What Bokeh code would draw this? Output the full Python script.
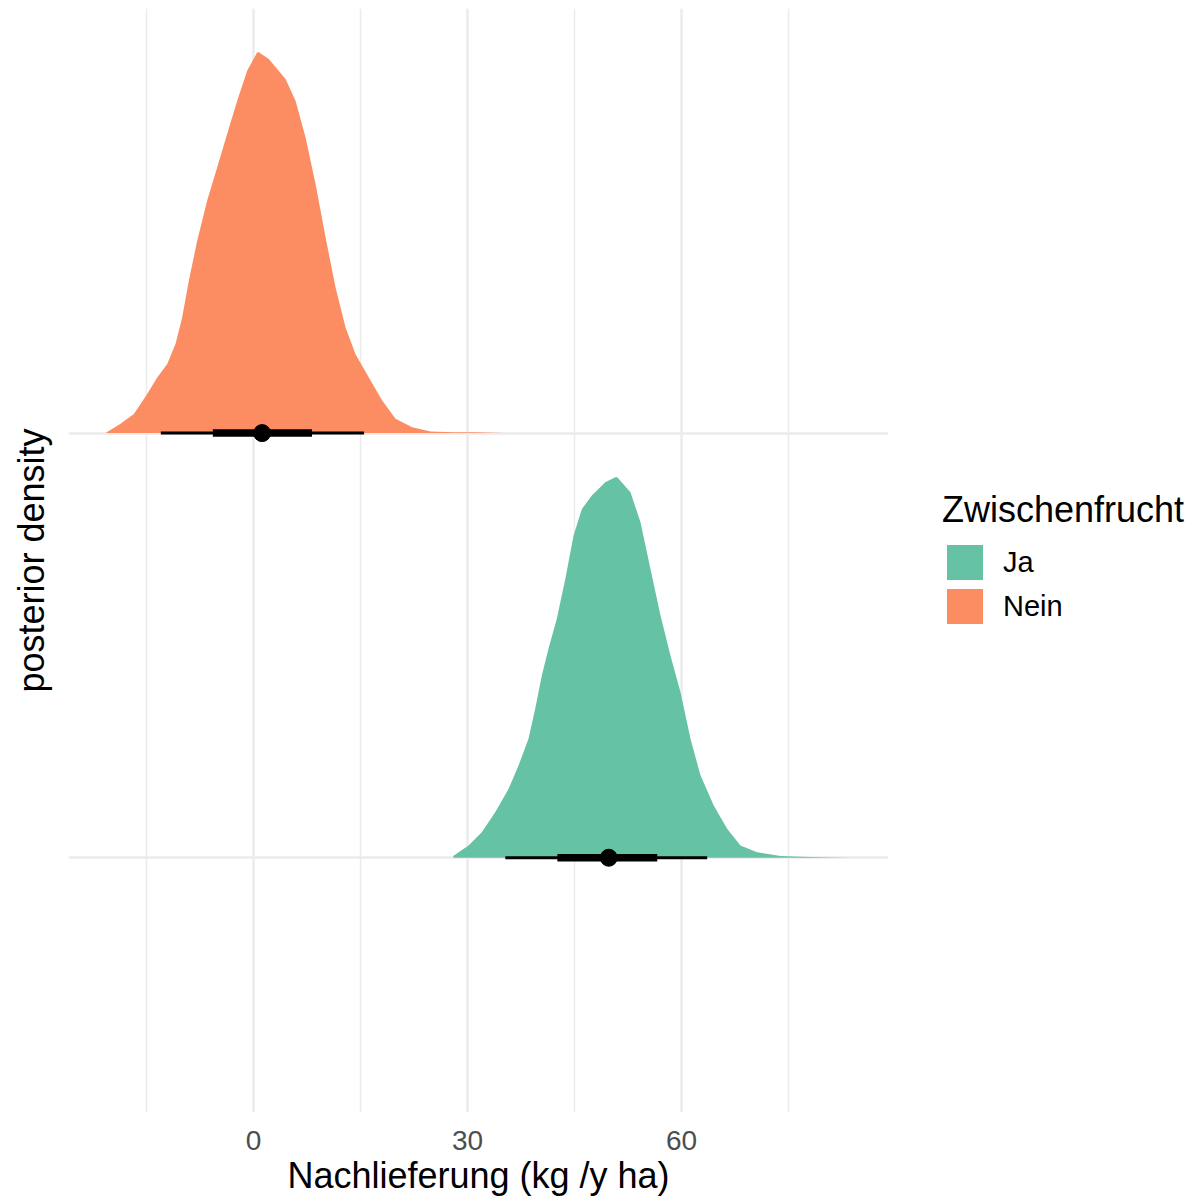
from bokeh.plotting import figure
from bokeh.models import FixedTicker, Legend, LegendItem
from bokeh.layouts import row
from bokeh.embed import file_html
from bokeh.resources import INLINE

# ---- data ----
groups = ["Ja", "Nein"]
group_y = [1, 2]
colors = ["#66C2A5", "#FC8D62"]

# slab outlines: x value and slab height (in units of the category spacing)
nein_x = [-20.75, -18.65, -16.78, -14.91, -13.5, -12.1, -10.94, -10.0, -9.07, -7.9, -6.5, -5.09, -3.69, -2.29,
          -0.88, 0.52, 0.74, 2.14, 4.49, 5.89, 7.29, 8.69, 10.09, 11.5, 12.9, 14.3, 16.17, 18.04, 19.91,
          22.25, 24.81, 28.0, 31.0, 35.3]
nein_h = [0.0, 0.022, 0.045, 0.092, 0.131, 0.163, 0.210, 0.273, 0.359, 0.453, 0.548, 0.626, 0.705, 0.783,
          0.854, 0.897, 0.897, 0.881, 0.834, 0.783, 0.697, 0.587, 0.462, 0.343, 0.249, 0.186, 0.131, 0.077, 0.034,
          0.014, 0.004, 0.002, 0.002, 0.0]

ja_x = [28.0, 30.14, 32.0, 33.88, 35.75, 37.15, 38.55, 39.49, 40.42, 41.35, 42.52, 43.7, 44.86, 46.03, 47.43,
        49.31, 50.71, 50.99, 52.85, 54.25, 55.65, 57.05, 58.45, 59.86, 61.26, 62.66, 64.52, 66.4, 68.26,
        70.6, 73.88, 78.0, 83.7]
ja_h = [0.004, 0.029, 0.060, 0.107, 0.162, 0.217, 0.280, 0.351, 0.429, 0.492, 0.563, 0.656, 0.758, 0.821, 0.853,
        0.884, 0.896, 0.896, 0.861, 0.790, 0.680, 0.571, 0.476, 0.390, 0.280, 0.194, 0.123, 0.068, 0.029,
        0.013, 0.004, 0.002, 0.0]

# point + intervals: [lower 95%, lower 66%, median, upper 66%, upper 95%]
ja_interval = [35.3, 42.6, 49.8, 56.6, 63.6]
nein_interval = [-13.0, -5.7, 1.2, 8.2, 15.5]

x_ticks = [0, 30, 60]
x_minor = [-15, 15, 45, 75]

FONT = "Liberation Sans"
H = 1199

slabs = {"Ja": (1, colors[0], ja_x, ja_h), "Nein": (2, colors[1], nein_x, nein_h)}

p = figure(width=888, height=H, x_range=(-25.94, 89.02), y_range=(0.4, 3.0),
           output_backend="svg", toolbar_location=None,
           min_border_left=68, min_border_right=0, min_border_top=8, min_border_bottom=87)
p.outline_line_color = None
p.background_fill_color = "white"
p.border_fill_color = "white"

for g in ["Nein", "Ja"]:
    gy, col, xs, hs = slabs[g]
    p.varea(x=xs, y1=[gy] * len(xs), y2=[gy + h for h in hs], fill_color=col, fill_alpha=1.0)

for gy, iv in [(2, nein_interval), (1, ja_interval)]:
    p.segment(x0=[iv[0]], y0=[gy], x1=[iv[4]], y1=[gy], line_color="black", line_width=3, line_cap="butt")
    p.segment(x0=[iv[1]], y0=[gy], x1=[iv[3]], y1=[gy], line_color="black", line_width=7.5, line_cap="butt")
    p.scatter(x=[iv[2]], y=[gy], size=17, fill_color="black", line_color="black")

# grids
xt = FixedTicker(ticks=x_ticks, minor_ticks=x_minor)
p.xaxis.ticker = xt
p.xgrid.ticker = xt
p.xgrid.grid_line_color = "#EBEBEB"
p.xgrid.grid_line_width = 2.5
p.xgrid.minor_grid_line_color = "#EBEBEB"
p.xgrid.minor_grid_line_width = 1.5

yt = FixedTicker(ticks=group_y)
p.yaxis.ticker = yt
p.ygrid.ticker = yt
p.ygrid.grid_line_color = "#EBEBEB"
p.ygrid.grid_line_width = 2.5

# axes
for ax in (p.xaxis[0], p.yaxis[0]):
    ax.axis_line_color = None
    ax.major_tick_line_color = None
    ax.minor_tick_line_color = None
    ax.major_tick_out = 0
    ax.minor_tick_out = 0
    ax.axis_label_text_font = FONT
    ax.axis_label_text_font_size = "36px"
    ax.axis_label_text_font_style = "normal"
    ax.axis_label_text_color = "black"
    ax.major_label_text_font = FONT

p.xaxis.axis_label = "Nachlieferung (kg /y ha)"
p.xaxis.major_label_text_font_size = "28px"
p.xaxis.major_label_text_color = "#4D4D4D"
p.xaxis.major_label_standoff = 18
p.xaxis.axis_label_standoff = 2

p.yaxis.axis_label = "posterior density"
p.yaxis.major_label_overrides = {1: "", 2: ""}
p.yaxis.major_label_text_font_size = "0px"
p.yaxis.major_label_standoff = 0
p.yaxis.axis_label_standoff = 17

# ---- legend panel (its swatch renderers lie outside its own ranges, so only the legend shows) ----
lf = figure(width=1195 - 888, height=H, x_range=(-1000, -999), y_range=(-1000, -999),
            output_backend="svg", toolbar_location=None,
            min_border_left=0, min_border_right=0, min_border_top=0, min_border_bottom=0)
lf.outline_line_color = None
lf.axis.visible = False
lf.grid.visible = False
lf.background_fill_color = "white"
lf.border_fill_color = "white"

leg_renderers = {}
for g in groups:
    gy, col, xs, hs = slabs[g]
    leg_renderers[g] = lf.varea(x=xs, y1=[gy] * len(xs), y2=[gy + h for h in hs],
                                fill_color=col, fill_alpha=1.0)

legend = Legend(items=[LegendItem(label=g, renderers=[leg_renderers[g]]) for g in groups],
                title="Zwischenfrucht", location=(54, 484))
legend.title_text_font = FONT
legend.title_text_font_size = "36px"
legend.title_text_font_style = "normal"
legend.title_text_color = "black"
legend.title_standoff = 9
legend.label_text_font = FONT
legend.label_text_font_size = "29px"
legend.label_text_color = "black"
legend.label_standoff = 16
legend.glyph_width = 45
legend.glyph_height = 44
legend.label_height = 44
legend.spacing = -2
legend.padding = 0
legend.margin = 0
legend.border_line_color = None
legend.background_fill_alpha = 0
lf.add_layout(legend)

layout = row(p, lf)
open("out.html", "w").write(file_html(layout, INLINE))
